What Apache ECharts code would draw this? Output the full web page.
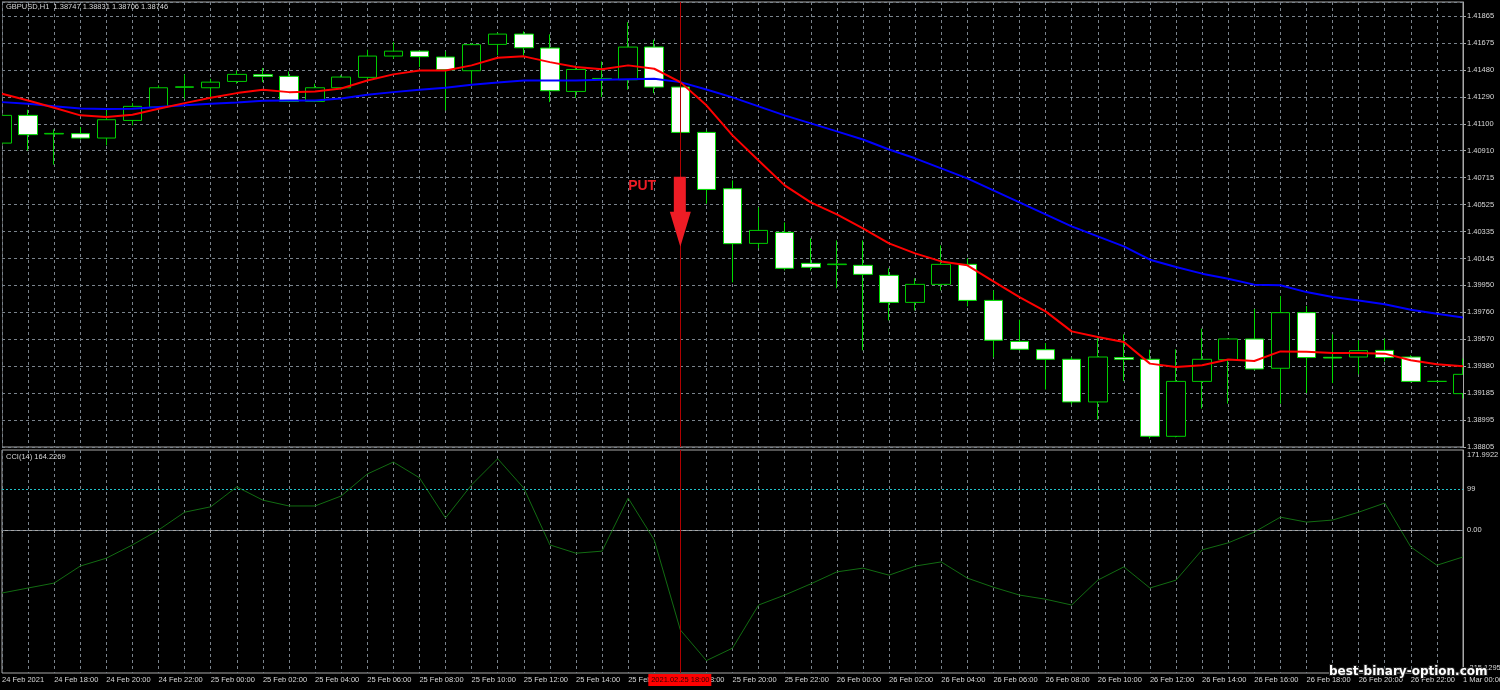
<!DOCTYPE html>
<html><head><meta charset="utf-8">
<script src="https://cdn.jsdelivr.net/npm/echarts@6/dist/echarts.min.js"></script>
<style>html,body{margin:0;padding:0;background:#000;}#c{width:1500px;height:690px;}</style>
</head><body><div id="c"></div>
<script>
// ---------- DATA ----------
const barTimes = [
'24 Feb 16:00','24 Feb 17:00','24 Feb 18:00','24 Feb 19:00','24 Feb 20:00','24 Feb 21:00','24 Feb 22:00','24 Feb 23:00',
'25 Feb 00:00','25 Feb 01:00','25 Feb 02:00','25 Feb 03:00','25 Feb 04:00','25 Feb 05:00','25 Feb 06:00','25 Feb 07:00',
'25 Feb 08:00','25 Feb 09:00','25 Feb 10:00','25 Feb 11:00','25 Feb 12:00','25 Feb 13:00','25 Feb 14:00','25 Feb 15:00',
'25 Feb 16:00','25 Feb 17:00','25 Feb 18:00','25 Feb 19:00','25 Feb 20:00','25 Feb 21:00','25 Feb 22:00','25 Feb 23:00',
'26 Feb 00:00','26 Feb 01:00','26 Feb 02:00','26 Feb 03:00','26 Feb 04:00','26 Feb 05:00','26 Feb 06:00','26 Feb 07:00',
'26 Feb 08:00','26 Feb 09:00','26 Feb 10:00','26 Feb 11:00','26 Feb 12:00','26 Feb 13:00','26 Feb 14:00','26 Feb 15:00',
'26 Feb 16:00','26 Feb 17:00','26 Feb 18:00','26 Feb 19:00','26 Feb 20:00','26 Feb 21:00','26 Feb 22:00','26 Feb 23:00',
'1 Mar 00:00'];
const xTickLabels = ['24 Feb 2021','24 Feb 18:00','24 Feb 20:00','24 Feb 22:00','25 Feb 00:00','25 Feb 02:00','25 Feb 04:00',
'25 Feb 06:00','25 Feb 08:00','25 Feb 10:00','25 Feb 12:00','25 Feb 14:00','25 Feb 16:00','25 Feb 18:00','25 Feb 20:00',
'25 Feb 22:00','26 Feb 00:00','26 Feb 02:00','26 Feb 04:00','26 Feb 06:00','26 Feb 08:00','26 Feb 10:00','26 Feb 12:00',
'26 Feb 14:00','26 Feb 16:00','26 Feb 18:00','26 Feb 20:00','26 Feb 22:00','1 Mar 00:00'];

const opens = [1.40963,1.41160,1.41028,1.41030,1.40999,1.41124,1.41219,1.41359,1.41356,1.41401,
1.41449,1.41437,1.41259,1.41356,1.41430,1.41581,1.41616,1.41574,1.41477,1.41664,
1.41737,1.41638,1.41330,1.41418,1.41413,1.41645,1.41361,1.41039,1.40639,1.40251,
1.40329,1.40109,1.40100,1.40095,1.40024,1.39832,1.39960,1.40102,1.39846,1.39555,
1.39496,1.39428,1.39125,1.39440,1.39428,1.38881,1.39271,1.39425,1.39572,1.39364,
1.39759,1.39442,1.39444,1.39491,1.39444,1.39271,1.39184];
const highs = [1.41283,1.41200,1.41060,1.41077,1.41195,1.41247,1.41373,1.41449,1.41420,1.41479,
1.41496,1.41472,1.41385,1.41444,1.41626,1.41680,1.41621,1.41614,1.41673,1.41747,
1.41756,1.41735,1.41514,1.41543,1.41822,1.41697,1.41380,1.41053,1.40698,1.40507,
1.40400,1.40287,1.40272,1.40272,1.40074,1.40003,1.40237,1.40145,1.39917,1.39709,
1.39543,1.39442,1.39582,1.39605,1.39496,1.39499,1.39646,1.39577,1.39785,1.39877,
1.39806,1.39605,1.39563,1.39575,1.39456,1.39275,1.39433];
const lows = [1.40926,1.40911,1.40810,1.40989,1.40947,1.41089,1.41207,1.41278,1.41278,1.41385,
1.41396,1.41254,1.41254,1.41344,1.41408,1.41562,1.41503,1.41195,1.41385,1.41586,
1.41586,1.41254,1.41283,1.41290,1.41342,1.41318,1.41032,1.40533,1.39974,1.40216,
1.40059,1.40059,1.39932,1.39491,1.39704,1.39775,1.39917,1.39804,1.39442,1.39491,
1.39213,1.39108,1.38999,1.39273,1.38865,1.38874,1.39078,1.39113,1.39350,1.39113,
1.39188,1.39259,1.39321,1.39413,1.39264,1.39267,1.39149];
const closes = [1.41160,1.41023,1.41032,1.40999,1.41129,1.41224,1.41356,1.41363,1.41396,1.41451,
1.41437,1.41259,1.41356,1.41432,1.41581,1.41616,1.41577,1.41484,1.41662,1.41737,
1.41640,1.41335,1.41486,1.41422,1.41645,1.41361,1.41039,1.40634,1.40249,1.40343,
1.40074,1.40081,1.40104,1.40031,1.39832,1.39960,1.40102,1.39846,1.39563,1.39499,
1.39428,1.39125,1.39444,1.39428,1.38881,1.39271,1.39428,1.39572,1.39359,1.39759,
1.39440,1.39437,1.39489,1.39440,1.39271,1.39271,1.39321];
const maFast = [1.41314,1.41266,1.41214,1.41160,1.41148,1.41165,1.41207,1.41247,1.41285,1.41318,
1.41342,1.41325,1.41330,1.41351,1.41408,1.41451,1.41479,1.41479,1.41515,1.41569,
1.41579,1.41538,1.41503,1.41488,1.41515,1.41491,1.41396,1.41231,1.41018,1.40840,
1.40663,1.40542,1.40457,1.40358,1.40251,1.40180,1.40123,1.40095,1.39981,1.39870,
1.39768,1.39626,1.39586,1.39550,1.39397,1.39373,1.39385,1.39426,1.39416,1.39484,
1.39482,1.39472,1.39472,1.39468,1.39421,1.39392,1.39378];
const maSlow = [1.41254,1.41243,1.41224,1.41209,1.41205,1.41207,1.41219,1.41231,1.41243,1.41252,
1.41264,1.41266,1.41266,1.41280,1.41307,1.41325,1.41342,1.41356,1.41378,1.41394,
1.41408,1.41408,1.41408,1.41413,1.41417,1.41420,1.41396,1.41344,1.41288,1.41224,
1.41160,1.41103,1.41046,1.40989,1.40918,1.40855,1.40784,1.40713,1.40627,1.40542,
1.40457,1.40372,1.40301,1.40230,1.40135,1.40083,1.40036,1.40000,1.39958,1.39953,
1.39905,1.39870,1.39846,1.39818,1.39780,1.39752,1.39724];
const cci = [-152,-140,-128,-87,-68,-36,0,43,56,104,
72,58,58,82,135,164,126,29,109,171.9922,
101,-36,-56,-51,77,-24,-241,-315.1295,-285,-181,
-157,-130,-101,-92,-109,-87,-77,-116,-138,-157,
-167,-181,-121,-89,-140,-121,-48,-31,-5,31,
19,24,43,65,-41,-85,-65];

const yTickLabels = ['1.38805','1.38995','1.39185','1.39380','1.39570','1.39760','1.39950','1.40145','1.40335',
'1.40525','1.40715','1.40910','1.41100','1.41290','1.41480','1.41675','1.41865'];
const priceMin = 1.38805, priceStep = 0.0019125, priceMax = 1.41965;
const cciLevels = [99, 0];
const cciLevelLabels = ['99', '0.00'];
const cciScaleLabels = ['171.9922', '-315.1295'];
const cciMin = -345, cciMax = 193;
const signalIndex = 26;
const signalLabel = '2021.02.25 18:00';
const signalText = 'PUT';
const arrowPrice = 1.40475, putPrice = 1.40656, putIndex = 24;
const headerText = 'GBPUSD,H1  1.38747 1.38831 1.38706 1.38746';
const cciHeader = 'CCI(14) 164.2269';
const watermark = 'best-binary-option.com';

// ---------- CHART ----------
const FONT = 'Liberation Sans';
const TXT = '#d8d8d8';
const GRIDC = '#7a838c';
const BORDER = '#a8a8a8';
const chart = echarts.init(document.getElementById('c'), null, {renderer: 'canvas'});
const candleData = opens.map((o, i) => [o, closes[i], lows[i], highs[i]]);
const indexMax = (priceMax - priceMin) / priceStep;
const indexLabel = v => { const r = Math.round(v); return Math.abs(v - r) < 1e-6 && yTickLabels[r] ? yTickLabels[r] : ''; };

const option = {
  backgroundColor: '#000',
  animation: false,
  grid: [
    {left: 2, top: 2, width: 1461, height: 445, show: true, borderColor: BORDER, borderWidth: 1, backgroundColor: 'transparent',
     containLabel: false, outerBoundsMode: 'none'},
    {left: 2, top: 450, width: 1461, height: 223, show: true, borderColor: BORDER, borderWidth: 1, backgroundColor: 'transparent',
     containLabel: false, outerBoundsMode: 'none'}
  ],
  xAxis: [
    {type: 'category', gridIndex: 0, data: barTimes, boundaryGap: false,
     axisLine: {show: false}, axisTick: {show: false}, axisLabel: {show: false},
     splitLine: {show: true, interval: 0, lineStyle: {color: GRIDC, type: [3, 3], width: 1}}},
    {type: 'category', gridIndex: 1, data: barTimes, boundaryGap: false,
     axisLine: {show: true, lineStyle: {color: BORDER}},
     axisTick: {show: true, interval: 1, length: 3, lineStyle: {color: BORDER}},
     axisLabel: {show: true, interval: 0, align: 'left', margin: 3, color: TXT, fontFamily: FONT, fontSize: 7.5,
       formatter: (v, i) => (i % 2 === 0 ? xTickLabels[i / 2] : '')},
     splitLine: {show: true, interval: 0, lineStyle: {color: GRIDC, type: [3, 3], width: 1}}}
  ],
  yAxis: [
    {type: 'value', gridIndex: 0, min: priceMin, max: priceMax, show: false, scale: true},
    // horizontal grid lines of the price panel (behind the candles)
    {type: 'value', gridIndex: 0, min: 0, max: indexMax, interval: 1, position: 'right',
     axisLine: {show: false}, axisTick: {show: false}, axisLabel: {show: false},
     splitLine: {show: true, lineStyle: {color: GRIDC, type: [3, 3], width: 1}}},
    {type: 'value', gridIndex: 1, min: cciMin, max: cciMax, position: 'right',
     axisLine: {show: true, lineStyle: {color: BORDER}}, axisTick: {show: false}, axisLabel: {show: false}, splitLine: {show: false}},
    // price scale labels (above the edge masks)
    {type: 'value', gridIndex: 0, min: 0, max: indexMax, interval: 1, position: 'right', z: 10,
     axisLine: {show: true, lineStyle: {color: BORDER}},
     axisTick: {show: true, length: 3, lineStyle: {color: BORDER}},
     axisLabel: {show: true, margin: 4, color: TXT, fontFamily: FONT, fontSize: 7.5, showMaxLabel: false, formatter: indexLabel},
     splitLine: {show: false}}
  ],
  series: [
    {type: 'candlestick', xAxisIndex: 0, yAxisIndex: 0, data: candleData, barWidth: 19, clip: true,
     itemStyle: {color: '#000000', color0: '#ffffff', borderColor: '#00cc00', borderColor0: '#00dd00', borderWidth: 1},
     markLine: {silent: true, symbol: ['none', 'none'], label: {show: false},
       lineStyle: {color: '#b00000', type: 'solid', width: 1},
       data: [{xAxis: barTimes[signalIndex]}]},
     markPoint: {silent: true, data: [
       {coord: [barTimes[signalIndex], arrowPrice], symbol: 'path://M4,0L16,0L16,35L21,35L10.5,70L0,35L4,35Z',
        symbolSize: [21, 70], itemStyle: {color: '#ee1c25'}, label: {show: false}},
       {coord: [barTimes[putIndex], putPrice], symbol: 'circle', symbolSize: 0,
        label: {show: true, formatter: signalText, position: 'right', distance: 0, color: '#ee1c25',
          fontFamily: FONT, fontWeight: 'bold', fontSize: 14}}
     ]}},
    {type: 'line', name: 'slow', xAxisIndex: 0, yAxisIndex: 0, data: maSlow, showSymbol: false, symbol: 'none',
     lineStyle: {color: '#0000ff', width: 2}},
    {type: 'line', name: 'fast', xAxisIndex: 0, yAxisIndex: 0, data: maFast, showSymbol: false, symbol: 'none',
     lineStyle: {color: '#ff0000', width: 2}},
    {type: 'line', name: 'CCI', xAxisIndex: 1, yAxisIndex: 2, data: cci, showSymbol: false, symbol: 'none',
     lineStyle: {color: '#126c12', width: 1},
     markLine: {silent: true, symbol: ['none', 'none'],
       data: [
         {yAxis: cciLevels[0], lineStyle: {color: '#20c0c8', type: [2, 2], width: 1},
          label: {show: true, position: 'end', distance: 4, formatter: cciLevelLabels[0], color: TXT, fontFamily: FONT, fontSize: 7.5}},
         {yAxis: cciLevels[1], lineStyle: {color: GRIDC, type: [3, 3], width: 1},
          label: {show: true, position: 'end', distance: 4, formatter: cciLevelLabels[1], color: TXT, fontFamily: FONT, fontSize: 7.5}},
         {xAxis: barTimes[signalIndex], lineStyle: {color: '#b00000', type: 'solid', width: 1}, label: {show: false}}
       ]}}
  ]
};
chart.setOption(option);

const sx = chart.convertToPixel({xAxisIndex: 1}, barTimes[signalIndex]);
const g0 = option.grid[0], g1 = option.grid[1];
const axisRight = g0.left + g0.width;
const axisBottom = g1.top + g1.height;
const mainBottom = g0.top + g0.height;
chart.setOption({graphic: [
  // masks that clip the half candles at both panel edges
  {type: 'rect', z: 5, silent: true, shape: {x: 0, y: 0, width: g0.left, height: mainBottom}, style: {fill: '#000'}},
  {type: 'rect', z: 5, silent: true, shape: {x: axisRight + 0.5, y: 0, width: 1500 - axisRight, height: mainBottom}, style: {fill: '#000'}},
  {type: 'text', left: 6, top: 3, z: 11, style: {text: headerText, fill: TXT, font: '7.5px "Liberation Sans"'}},
  {type: 'text', left: 6, top: g1.top + 3, z: 11, style: {text: cciHeader, fill: TXT, font: '7.5px "Liberation Sans"'}},
  {type: 'text', x: axisRight + 4, y: g1.top + 5, z: 11, style: {text: cciScaleLabels[0], fill: TXT, font: '7.5px "Liberation Sans"', verticalAlign: 'middle'}},
  {type: 'text', x: axisRight + 4, y: axisBottom - 5, z: 11, style: {text: cciScaleLabels[1], fill: TXT, font: '7.5px "Liberation Sans"', verticalAlign: 'middle'}},
  {type: 'rect', z: 20, shape: {x: sx - 32, y: axisBottom + 1, width: 63, height: 12}, style: {fill: '#ff0000'}},
  {type: 'text', z: 21, x: sx, y: axisBottom + 7, style: {text: signalLabel, fill: '#300000', font: '7.5px "Liberation Sans"', align: 'center', verticalAlign: 'middle'}},
  {type: 'text', z: 30, x: 1329, y: 672, style: {text: watermark, fill: '#ffffff', stroke: '#222', lineWidth: 2,
    font: 'bold 12px "DejaVu Sans"', verticalAlign: 'middle'}}
]});
</script></body></html>
